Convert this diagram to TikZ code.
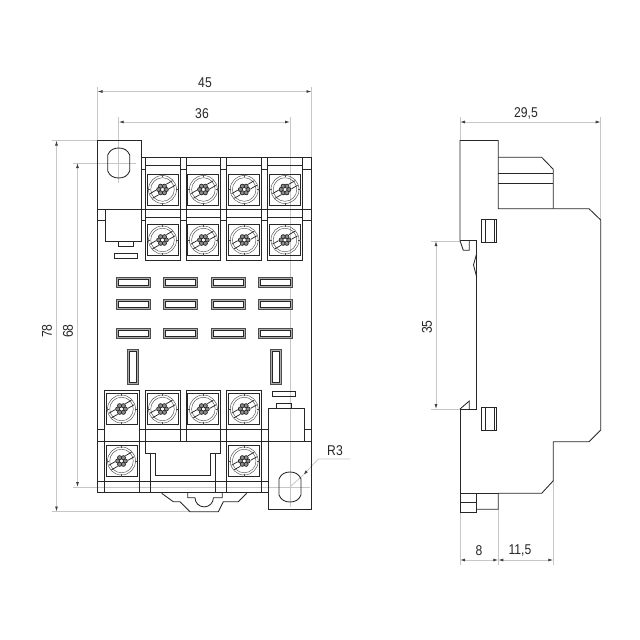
\documentclass[tikz,border=0pt]{standalone}
\usepackage{fontspec}
\setmainfont{Liberation Sans}
\usepackage{tikz}
\usetikzlibrary{arrows.meta,calc}
\tikzset{>={Latex[length=5pt,width=3pt,color=black!75]}}
\tikzset{
  body/.style={line width=0.85pt,draw=black!85},
  thin line/.style={line width=0.45pt,draw=black!70},
  dimline/.style={line width=0.8pt,draw=black!22},
  dimtext/.style={inner sep=0pt,font=\fontsize{13.5}{13.5}\selectfont,text=black!85,transform shape,xscale=0.9,yscale=1.05}
}
% terminal screw, centred at (#1,#2)
\newcommand{\screwbox}[2]{
  \draw[body,line width=1pt] (#1-15.5,#2-15.5) rectangle (#1+15.5,#2+15.5) ;
  \draw[thin line] (#1,#2) circle [radius=14] ;
  \draw[thin line] (#1,#2) circle [radius=11.8] ;
  \draw[thin line] (#1,#2-15.5) -- (#1,#2-13) ;
  \draw[thin line] (#1,#2+15.5) -- (#1,#2+13) ;
  \draw[thin line] (#1-15.5,#2) -- (#1-13,#2) ;
  \draw[thin line] (#1+15.5,#2) -- (#1+13,#2) ;
  \draw[body,line width=0.75pt] (#1-10,#2+8.8) -- (#1-3.9,#2+5.3) ;
  \draw[body,line width=0.75pt] (#1-12.6,#2+4.2) -- (#1-6.5,#2+0.7) ;
  \draw[body,line width=0.75pt] (#1+10,#2-8.8) -- (#1+3.9,#2-5.3) ;
  \draw[body,line width=0.75pt] (#1+12.6,#2-4.2) -- (#1+6.5,#2-0.7) ;
  \foreach \a in {0,60,...,300} {
    \draw[body,line width=0.7pt,fill=black!45] ($(#1,#2)+(\a:3.8pt)$) circle [radius=2.1] ;
  }
}
% mounting slot, corners (#1,#2) and (#3,#4)
\newcommand{\slotbox}[4]{
  \draw[thin line,line width=0.5pt,fill=black!32] (#1,#2) rectangle (#3,#4) ;
  \draw[body,line width=0.6pt,fill=white] (#1+2,#2+2) rectangle (#3-2,#4-2) ;
}
% mounting hole, centred at (#1,#2)
\newcommand{\holeshape}[2]{
  \draw[body] (#1-11,#2-8) .. controls (#1-9,#2-13) and (#1-5,#2-15) .. (#1,#2-15)
    .. controls (#1+5,#2-15) and (#1+9,#2-13) .. (#1+11,#2-8) -- (#1+11,#2+8)
    .. controls (#1+9,#2+13) and (#1+5,#2+15) .. (#1,#2+15)
    .. controls (#1-5,#2+15) and (#1-9,#2+13) .. (#1-11,#2+8) -- cycle ;
}
\begin{document}
\begin{tikzpicture}[x=1pt,y=-1pt]
  \useasboundingbox (0,0) rectangle (640,640) ;

  % extension and centre lines
  \draw[dimline] (97.5,87) -- (97.5,140.5) ;
  \draw[dimline] (311.5,87) -- (311.5,157) ;
  \draw[dimline] (118.7,117) -- (118.7,183) ;
  \draw[dimline] (290,117) -- (290,507) ;
  \draw[dimline] (52,140.5) -- (97.5,140.5) ;
  \draw[dimline] (73,163) -- (136,163) ;
  \draw[dimline] (73,487) -- (310,487) ;
  \draw[dimline] (52,511.5) -- (190,511.5) ;
  \draw[dimline] (460,117) -- (460,140.5) ;
  \draw[dimline] (600.7,117) -- (600.7,220) ;
  \draw[dimline] (431,241) -- (460,241) ;
  \draw[dimline] (431,409) -- (460,409) ;
  \draw[dimline] (460,512) -- (460,565) ;
  \draw[dimline] (498.3,509) -- (498.3,565) ;
  \draw[dimline] (553.3,480) -- (553.3,565) ;

  % dimension lines
  \draw[dimline,<->] (97.5,91.5) -- (311.5,91.5) ;
  \draw[dimline,<->] (118.7,122) -- (290,122) ;
  \draw[dimline,<->] (56.5,140.5) -- (56.5,511.5) ;
  \draw[dimline,<->] (77.5,163) -- (77.5,487) ;
  \draw[dimline,<->] (460,122) -- (600.7,122) ;
  \draw[dimline,<->] (436,241) -- (436,409) ;
  \draw[dimline,<->] (460,560) -- (498.3,560) ;
  \draw[dimline,<->] (498.3,560) -- (553.3,560) ;
  \draw[dimline,<-] (303.3,475) -- (318.3,459) -- (350,459) ;
  \draw[dimline] (290,487) -- (303.3,475) ;

  \node[dimtext] (w45) at (205,83) {45};
  \node[dimtext] (w36) at (202,114) {36};
  \node[rotate=90,dimtext] (h78) at (47,331) {78};
  \node[rotate=90,dimtext] (h68) at (68,331) {68};
  \node[dimtext] (r3) at (335,451) {R3};
  \node[dimtext] (d295) at (526,113) {29,5};
  \node[rotate=90,dimtext] (rail35) at (427,327) {35};
  \node[dimtext] (d8) at (479,551) {8};
  \node[dimtext] (d115) at (520,551) {11,5};

  % front view outline
  \draw[body] (97.5,492.7) -- (97.5,140.5) -- (141,140.5) -- (141,209) ;
  \draw[body] (141,157.3) -- (311.5,157.3) -- (311.5,509.5) -- (268,509.5) -- (268,408) ;
  \draw[body] (97.5,209) -- (311.5,209) ;
  \draw[body] (97.5,492.7) -- (268,492.7) ;
  \draw[body] (97.5,481.7) -- (268,481.7) ;
  \draw[body] (97.5,441.7) -- (311.5,441.7) ;
  \draw[body] (97.5,429.3) -- (104,429.3) ;
  \draw[body] (139,429.3) -- (268,429.3) ;
  \draw[body] (304,429.3) -- (311.5,429.3) ;

  % top terminals
  \draw[body] (145,157.3) -- (145,260) -- (180,260) -- (180,157.3) ;
  \draw[body] (186,157.3) -- (186,260) -- (220.7,260) -- (220.7,157.3) ;
  \draw[body] (226.7,157.3) -- (226.7,260) -- (261.7,260) -- (261.7,157.3) ;
  \draw[body] (267.5,157.3) -- (267.5,260) -- (302.3,260) -- (302.3,157.3) ;
  \draw[body] (145,165) -- (180,165) ;
  \draw[body] (186,165) -- (220.7,165) ;
  \draw[body] (226.7,165) -- (261.7,165) ;
  \draw[body] (267.5,165) -- (302.3,165) ;
  \draw[body] (145,217) -- (180,217) ;
  \draw[body] (186,217) -- (220.7,217) ;
  \draw[body] (226.7,217) -- (261.7,217) ;
  \draw[body] (267.5,217) -- (302.3,217) ;
  \draw[body] (141,169) -- (145,169) ;
  \draw[body] (180,169) -- (186,169) ;
  \draw[body] (220.7,169) -- (226.7,169) ;
  \draw[body] (261.7,169) -- (267.5,169) ;
  \draw[body] (302.3,169) -- (311.5,169) ;
  \draw[body] (141,220) -- (145,220) ;
  \draw[body] (180,220) -- (186,220) ;
  \draw[body] (220.7,220) -- (226.7,220) ;
  \draw[body] (261.7,220) -- (267.5,220) ;
  \draw[body] (302.3,220) -- (311.5,220) ;
  \screwbox{162.5}{189.5}
  \screwbox{203.4}{189.5}
  \screwbox{244.2}{189.5}
  \screwbox{285}{189.5}
  \screwbox{162.5}{240}
  \screwbox{203.4}{240}
  \screwbox{244.2}{240}
  \screwbox{285}{240}

  % left mounting tab
  \holeshape{118.7}{163}
  \draw[body] (105.3,209) -- (105.3,241.7) -- (141,241.7) -- (141,209) ;
  \draw[body] (97.5,220) -- (105.3,220) ;
  \draw[body] (118.3,241.7) -- (118.3,246.7) -- (133.3,246.7) -- (133.3,241.7) ;
  \draw[body] (114.3,253.3) rectangle (137.3,258.7) ;

  % slots
  \slotbox{116}{277.3}{150.7}{287.3}
  \slotbox{163.3}{277.3}{197.7}{287.3}
  \slotbox{211}{277.3}{245.7}{287.3}
  \slotbox{258.7}{277.3}{292.7}{287.3}
  \slotbox{116}{299.3}{150.7}{309.3}
  \slotbox{163.3}{299.3}{197.7}{309.3}
  \slotbox{211}{299.3}{245.7}{309.3}
  \slotbox{258.7}{299.3}{292.7}{309.3}
  \slotbox{116}{328}{150.7}{338.3}
  \slotbox{163.3}{328}{197.7}{338.3}
  \slotbox{211}{328}{245.7}{338.3}
  \slotbox{258.7}{328}{292.7}{338.3}
  \slotbox{127.7}{349.3}{138.3}{384}
  \slotbox{270.7}{349.3}{281.3}{384}

  % bottom terminals
  \draw[body] (104,390) rectangle (139,492.7) ;
  \draw[body] (226.7,390) rectangle (261.7,492.7) ;
  \draw[body] (145,453) -- (145,390) -- (180,390) -- (180,441.7) ;
  \draw[body] (186,441.7) -- (186,390) -- (220.7,390) -- (220.7,453) ;
  \screwbox{121.5}{409}
  \screwbox{162.5}{409}
  \screwbox{203.4}{409}
  \screwbox{244.2}{409}
  \screwbox{121.5}{461}
  \screwbox{244.2}{461}

  % cut-out and clip
  \draw[body] (145,453) -- (155,453) -- (155,475) -- (210,475) -- (210,453) -- (220.7,453) ;
  \draw[body] (150,453) -- (150,492.7) ;
  \draw[body] (215,453) -- (215,492.7) ;
  \draw[body] (161.7,493.3) -- (173.3,501.7) -- (180,501.7) -- (190,511.7) -- (218.3,511.7)
    -- (223.3,501.7) -- (238.3,501.7) -- (246.7,493.3) ;
  \draw[body] (187.7,493) -- (187.7,497.7) -- (195,497.7) arc [start angle=180,end angle=0,radius=9.2]
    -- (222.3,497.7) -- (222.3,493) ;

  % right mounting tab
  \holeshape{290}{487}
  \draw[body] (268,408) -- (304,408) -- (304,441.7) ;
  \draw[body] (261.7,429.3) -- (268,429.3) ;
  \draw[body] (261.7,481.7) -- (268,481.7) ;
  \draw[body] (276.7,408) -- (276.7,403) -- (291,403) -- (291,408) ;
  \draw[body] (272,391.7) rectangle (295,396.7) ;

  % side view
  \draw[body] (460,240.7) -- (460,140.5) -- (498.3,140.5) -- (498.3,208.7) -- (589,208.7)
    -- (600.7,220) -- (600.7,430) -- (589,441.7) -- (553.3,441.7) -- (553.3,480.7)
    -- (541.7,493.3) -- (498.3,493.3) -- (498.3,509.3) -- (476,509.3) ;
  \draw[body] (498.3,157.3) -- (541.7,157.3) -- (553.3,169.3) -- (553.3,208.7) ;
  \draw[body] (498.3,173.3) -- (553.3,173.3) ;
  \draw[body] (498.3,183.3) -- (553.3,183.3) ;
  \draw[body] (460,240.7) -- (476.7,240.7) -- (476.7,409) -- (460,409) -- (460,512.3) -- (476,512.3) -- (476,493.3) ;
  \draw[body] (460,240.7) -- (463.3,250.3) -- (469.3,250.3) -- (469.3,240.7) ;
  \draw[body] (476.7,253.3) -- (473.5,265) -- (476.7,277) ;
  \draw[body] (460,409) -- (469.3,401) -- (469.3,409) ;
  \draw[body] (460,493.3) -- (498.3,493.3) ;
  \draw[body] (460,502.7) -- (476,502.7) ;
  \draw[body] (481.7,219) rectangle (496,242.7) ;
  \draw[body] (485,219) -- (485,242.7) ;
  \draw[body] (494.5,219) -- (494.5,242.7) ;
  \draw[body] (481.7,407.3) rectangle (496,430.7) ;
  \draw[body] (485,407.3) -- (485,430.7) ;
  \draw[body] (494.5,407.3) -- (494.5,430.7) ;
\end{tikzpicture}
\end{document}
